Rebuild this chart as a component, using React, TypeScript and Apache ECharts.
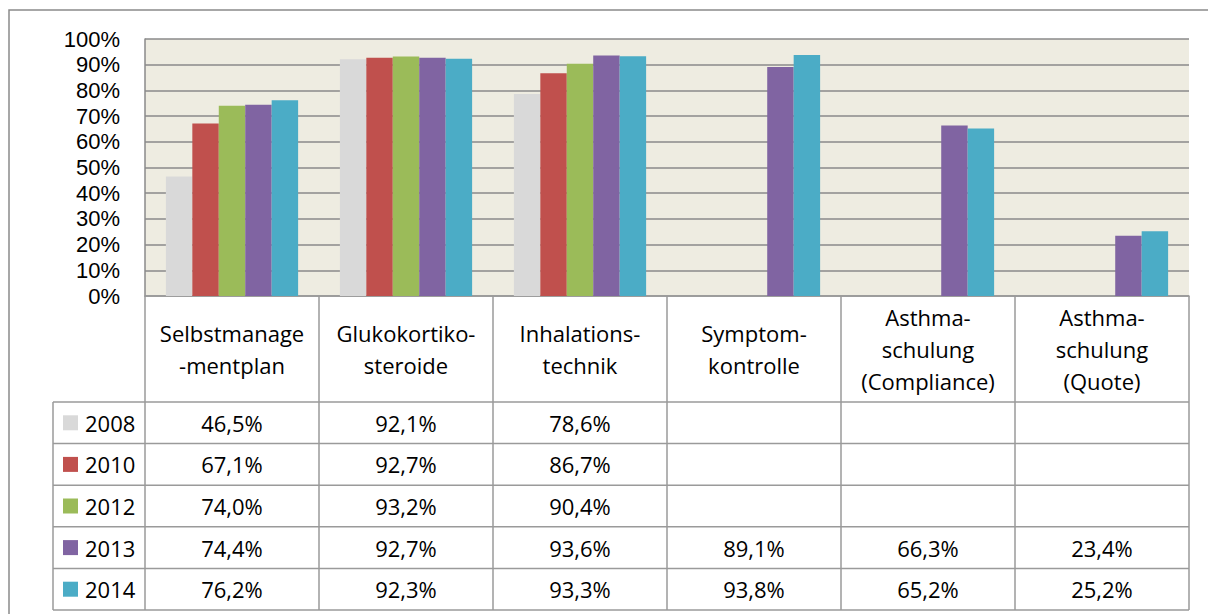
import React, { useEffect, useRef } from "react";
import * as echarts from "echarts";

const categories = [
  "Selbstmanage\n-mentplan",
  "Glukokortiko-\nsteroide",
  "Inhalations-\ntechnik",
  "Symptom-\nkontrolle",
  "Asthma-\nschulung\n(Compliance)",
  "Asthma-\nschulung\n(Quote)",
];
const years = ["2008", "2010", "2012", "2013", "2014"];
const colors = ["#D9D9D9", "#C0504D", "#9BBB59", "#8064A2", "#4BACC6"];

const v2008 = [46.5, 92.1, 78.6, null, null, null];
const v2010 = [67.1, 92.7, 86.7, null, null, null];
const v2012 = [74.0, 93.2, 90.4, null, null, null];
const v2013 = [74.4, 92.7, 93.6, 89.1, 66.3, 23.4];
const v2014 = [76.2, 92.3, 93.3, 93.8, 65.2, 25.2];
const seriesValues = [v2008, v2010, v2012, v2013, v2014];

const yMin = 0;
const yMax = 100;
const yStep = 10;

const FONT = "'Open Sans', 'Noto Sans', sans-serif";
const AXFONT = "'Liberation Sans', Arial, sans-serif";
const FS = 22;
const LINE = "#9a9a9a";
const GRID = "#8a8a8a";

function fmt(v: number | null) {
  if (v === null || v === undefined) return "";
  return v.toFixed(1).replace(".", ",") + "%";
}

export default function App() {
  const ref = useRef<HTMLDivElement>(null);
  useEffect(() => {
    const chart = echarts.init(ref.current!, null, { renderer: "svg" });
    const gridLeft = 145;
    const gridRight = 19;
    const gridTop = 39;
    const gridBottom = 318;
    chart.setOption({
      animation: false,
      backgroundColor: "#ffffff",
      textStyle: { fontFamily: FONT },
      grid: {
        left: gridLeft,
        right: gridRight,
        top: gridTop,
        bottom: gridBottom,
        show: true,
        backgroundColor: "#EEECE1",
        borderWidth: 0,
      },
      xAxis: {
        type: "category",
        data: categories,
        axisLine: { show: true, lineStyle: { color: LINE, width: 1.5 } },
        axisTick: { show: false },
        axisLabel: {
          interval: 0,
          margin: 53,
          verticalAlign: "middle",
          lineHeight: 32,
          fontSize: FS,
          fontFamily: FONT,
          color: "#000",
        },
        splitLine: { show: false },
      },
      yAxis: {
        type: "value",
        min: yMin,
        max: yMax,
        interval: yStep,
        axisLine: { show: true, lineStyle: { color: GRID, width: 1.5 } },
        axisTick: { show: false },
        axisLabel: {
          margin: 25,
          fontSize: 22,
          lineHeight: 22,
          fontFamily: AXFONT,
          color: "#000",
          formatter: "{value}%",
        },
        splitLine: { show: true, lineStyle: { color: GRID, width: 1.5 } },
      },
      series: seriesValues.map((vals, i) => ({
        type: "bar",
        name: years[i],
        data: vals,
        barGap: "0%",
        barCategoryGap: "24%",
        itemStyle: { color: colors[i] },
      })),
    });

    const W = 1208;
    const x0 = gridLeft;
    const x1 = W - gridRight;
    const yAxisPx = chart.convertToPixel({ yAxisIndex: 0 }, yMin) as number;
    const headerH = 106;
    const rowH = 41.6;
    const rowsTop = yAxisPx + headerH;
    const legendLeft = 53;
    const colW = (x1 - x0) / categories.length;
    const els: any[] = [];

    els.push({
      type: "rect",
      shape: { x: 9, y: 10, width: 1400, height: 800 },
      style: { fill: "none", stroke: "#8a8a8a", lineWidth: 1.5 },
      z: 0,
    });

    for (let i = 0; i <= categories.length; i++) {
      const x = x0 + colW * i;
      els.push({
        type: "line",
        shape: { x1: x, y1: yAxisPx, x2: x, y2: rowsTop + rowH * years.length },
        style: { stroke: LINE, lineWidth: 1.5 },
      });
    }
    els.push({
      type: "line",
      shape: { x1: legendLeft, y1: rowsTop, x2: legendLeft, y2: rowsTop + rowH * years.length },
      style: { stroke: LINE, lineWidth: 1.5 },
    });
    for (let r = 0; r <= years.length; r++) {
      const y = rowsTop + rowH * r;
      els.push({
        type: "line",
        shape: { x1: legendLeft, y1: y, x2: x1, y2: y },
        style: { stroke: LINE, lineWidth: 1.5 },
      });
    }
    years.forEach((yr, r) => {
      const cy = rowsTop + rowH * (r + 0.5);
      els.push({
        type: "rect",
        shape: { x: 63, y: cy - 7.5, width: 15, height: 15 },
        style: { fill: colors[r] },
      });
      els.push({
        type: "text",
        x: 85,
        y: cy,
        style: {
          text: yr,
          fill: "#000",
          fontSize: FS,
          fontFamily: FONT,
          align: "left",
          verticalAlign: "middle",
        },
      });
      seriesValues[r].forEach((v, c) => {
        const cx = chart.convertToPixel({ xAxisIndex: 0 }, c) as number;
        els.push({
          type: "text",
          x: cx,
          y: cy,
          style: {
            text: fmt(v),
            fill: "#000",
            fontSize: FS,
            fontFamily: FONT,
            align: "center",
            verticalAlign: "middle",
          },
        });
      });
    });

    chart.setOption({ graphic: { elements: els } });
    return () => chart.dispose();
  }, []);
  return (
    <div
      ref={ref}
      style={{ position: "fixed", left: 0, top: 0, width: 1208, height: 614 }}
    />
  );
}
